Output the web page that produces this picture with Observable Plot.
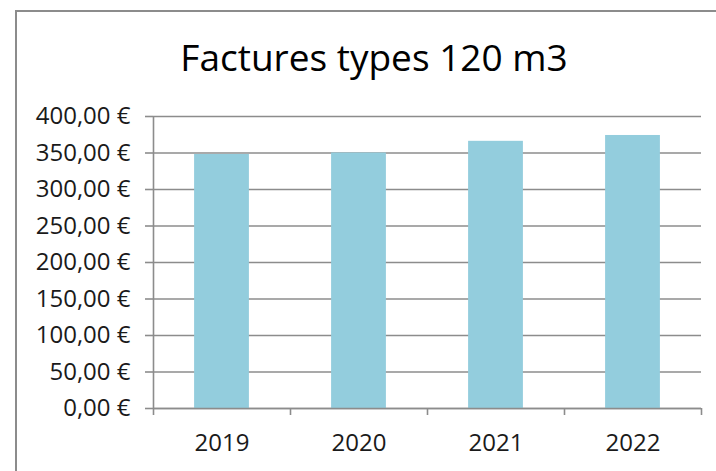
<!DOCTYPE html>
<html>
<head>
<meta charset="utf-8">
<script src="https://cdn.jsdelivr.net/npm/d3@7"></script>
<script src="https://cdn.jsdelivr.net/npm/@observablehq/plot@0.6"></script>
<style>
  html, body { margin: 0; padding: 0; background: #fff; }
  #wrap { position: relative; width: 716px; height: 471px; overflow: hidden; background: #fff; }
  #border { position: absolute; left: 15px; top: 10px; width: 900px; height: 700px; border: 2px solid #8c8c8c; box-sizing: border-box; z-index: 2; pointer-events: none; }
  #title { position: absolute; left: 0; top: 38px; width: 748px; text-align: center; font-family: "Open Sans", sans-serif; font-size: 37px; line-height: 37px; color: #000; white-space: nowrap; }
  #chart { position: absolute; left: 0; top: 100px; }
</style>
</head>
<body>
<div id="wrap">
  <div id="border"></div>
  <div id="title">Factures types 120 m3</div>
  <div id="chart"></div>
</div>
<script>
const title = "Factures types 120 m3";
const years = ["2019", "2020", "2021", "2022"];
const values = [348, 350, 366, 374];
const yTicks = [0, 50, 100, 150, 200, 250, 300, 350, 400];

const data = years.map((y, i) => ({ year: y, i, value: values[i] }));
const boundaries = d3.range(years.length + 1);
const centers = years.map((_, i) => i + 0.5);
const fmt = d => d.toFixed(2).replace(".", ",") + "\u00a0€";
const grey = "#8c8c8c";

document.getElementById("title").textContent = title;

const chart = Plot.plot({
  width: 716,
  height: 371,
  marginTop: 16,
  marginBottom: 63,
  marginLeft: 153,
  marginRight: 15,
  style: { fontFamily: "'Open Sans', sans-serif", fontSize: "24px", color: "#1a1a1a", background: "transparent", overflow: "visible" },
  x: { type: "linear", domain: [0, years.length] },
  y: { domain: [0, 400] },
  marks: [
    Plot.gridY(yTicks, { stroke: grey, strokeOpacity: 1, strokeWidth: 1.6 }),
    Plot.rectY(data, { x1: d => d.i + 0.3, x2: d => d.i + 0.7, y: "value", fill: "#93cddd" }),
    Plot.ruleY([0], { stroke: grey, strokeWidth: 1.6 }),
    Plot.ruleX([0], { stroke: grey, strokeWidth: 1.6 }),
    Plot.axisY({ ticks: yTicks, tickFormat: fmt, tickSize: 8, tickPadding: 15, stroke: grey, strokeWidth: 1.6, fill: "#1a1a1a", fontSize: 24, label: null }),
    Plot.axisX({ ticks: boundaries, tickFormat: () => "", tickSize: 7, stroke: grey, strokeWidth: 1.6, label: null }),
    Plot.axisX({ ticks: centers, tickFormat: d => years[Math.round(d - 0.5)], tickSize: 0, tickPadding: 25, fill: "#1a1a1a", fontSize: 24, label: null })
  ]
});
document.getElementById("chart").appendChild(chart);
</script>
</body>
</html>
